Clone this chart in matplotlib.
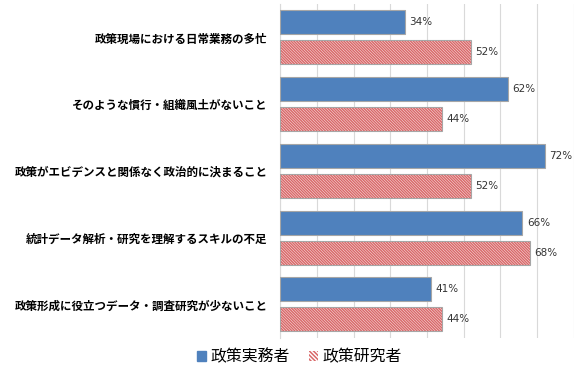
import numpy as np
import matplotlib.pyplot as plt
from matplotlib.patches import Patch

plt.rcParams["font.family"] = ["Noto Sans CJK JP", "DejaVu Sans"]
plt.rcParams["hatch.linewidth"] = 1.1

# データ
categories = [
    "政策現場における日常業務の多忙",
    "そのような慣行・組織風土がないこと",
    "政策がエビデンスと関係なく政治的に決まること",
    "統計データ解析・研究を理解するスキルの不足",
    "政策形成に役立つデータ・調査研究が少ないこと",
]
practitioners = [34, 62, 72, 66, 41]
researchers = [52, 44, 52, 68, 44]
series_names = ["政策実務者", "政策研究者"]

blue = "#4F81BD"
red = "#D9696A"
edge = "#A6A6A6"
hatch = "\\" * 12

fig = plt.figure(figsize=(5.85, 3.70), dpi=100)
ax = fig.add_axes([0.479, 0.087, 0.502, 0.902])

y = np.arange(len(categories))
h = 0.36
off = 0.225

ax.barh(y - off, practitioners, height=h, color=blue, edgecolor=edge,
        linewidth=0.8, zorder=3)
# 斜線の棒: 先に赤い斜線、その上に灰色の枠
ax.barh(y + off, researchers, height=h, color="white", edgecolor=red,
        hatch=hatch, linewidth=0, zorder=3)
ax.barh(y + off, researchers, height=h, color="none", edgecolor=edge,
        linewidth=0.8, zorder=4)

for yi, v in zip(y, practitioners):
    ax.text(v + 1.2, yi - off, f"{v}%", va="center", ha="left",
            fontsize=7.5, color="#333333", family="DejaVu Sans")
for yi, v in zip(y, researchers):
    ax.text(v + 1.2, yi + off, f"{v}%", va="center", ha="left",
            fontsize=7.5, color="#333333", family="DejaVu Sans")

ax.set_xlim(0, 80)
ax.set_ylim(len(categories) - 0.5, -0.5)
ax.set_xticks(np.arange(0, 81, 10))
ax.xaxis.grid(True, color="#D9D9D9", linewidth=0.8, zorder=0)
ax.set_axisbelow(True)
ax.tick_params(axis="x", length=0, labelbottom=False)
ax.tick_params(axis="y", length=0, pad=9)
ax.set_yticks(y)
ax.set_yticklabels(categories, fontsize=8.3, fontweight="bold")
for s in ["top", "right", "bottom"]:
    ax.spines[s].set_visible(False)
ax.spines["left"].set_color("#D9D9D9")

handles = [
    Patch(facecolor=blue, edgecolor=blue, label=series_names[0]),
    Patch(facecolor="white", edgecolor=red, hatch="\\" * 8,
          linewidth=0, label=series_names[1]),
]
fig.legend(handles=handles, loc="center", bbox_to_anchor=(0.512, 0.035),
           ncol=2, frameon=False, fontsize=11.4, handlelength=0.55,
           handleheight=0.55, handletextpad=0.3, columnspacing=1.2)

fig.savefig("out.png", dpi=100, facecolor="white")
